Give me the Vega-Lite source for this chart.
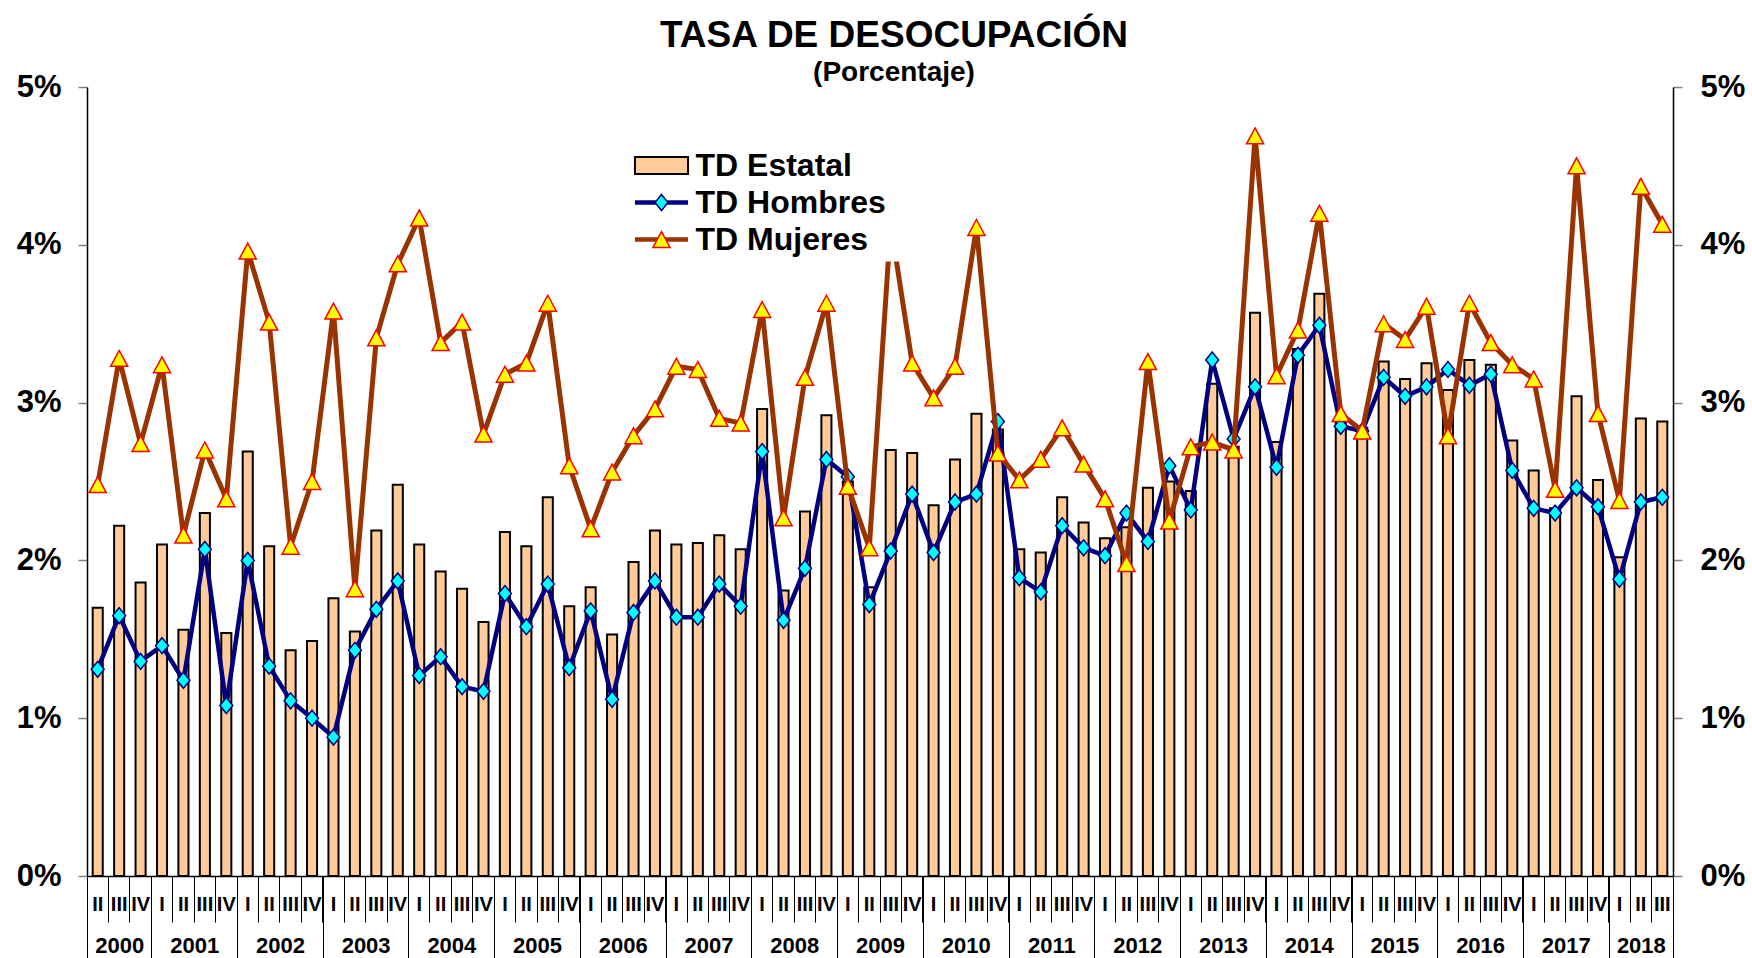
{
  "$schema": "https://vega.github.io/schema/vega-lite/v6.json",
  "width": 1586,
  "height": 789,
  "autosize": {"type": "none"},
  "padding": {"left": 87, "top": 87, "right": 79, "bottom": 82},
  "background": "#ffffff",
  "config": {"font": "Liberation Sans", "view": {"stroke": null}},
  "title": {
    "text": "TASA DE DESOCUPACIÓN",
    "subtitle": "(Porcentaje)",
    "anchor": "middle",
    "frame": "group",
    "font": "Liberation Sans",
    "fontSize": 37,
    "fontWeight": "bold",
    "color": "#000000",
    "subtitleFont": "Liberation Sans",
    "subtitleFontSize": 28,
    "subtitleFontWeight": "bold",
    "subtitleColor": "#000000",
    "subtitlePadding": 4,
    "offset": -17,
    "dx": 14
  },
  "datasets": {
    "d": [
      {"t": "2000-II", "e": 1.70, "h": 1.31, "m": 2.48},
      {"t": "2000-III", "e": 2.22, "h": 1.65, "m": 3.28},
      {"t": "2000-IV", "e": 1.86, "h": 1.36, "m": 2.74},
      {"t": "2001-I", "e": 2.10, "h": 1.46, "m": 3.24},
      {"t": "2001-II", "e": 1.56, "h": 1.24, "m": 2.16},
      {"t": "2001-III", "e": 2.30, "h": 2.07, "m": 2.70},
      {"t": "2001-IV", "e": 1.54, "h": 1.08, "m": 2.39},
      {"t": "2002-I", "e": 2.69, "h": 2.00, "m": 3.96},
      {"t": "2002-II", "e": 2.09, "h": 1.33, "m": 3.51},
      {"t": "2002-III", "e": 1.43, "h": 1.11, "m": 2.09},
      {"t": "2002-IV", "e": 1.49, "h": 1.00, "m": 2.50},
      {"t": "2003-I", "e": 1.76, "h": 0.88, "m": 3.58},
      {"t": "2003-II", "e": 1.55, "h": 1.43, "m": 1.82},
      {"t": "2003-III", "e": 2.19, "h": 1.69, "m": 3.41},
      {"t": "2003-IV", "e": 2.48, "h": 1.87, "m": 3.88},
      {"t": "2004-I", "e": 2.10, "h": 1.27, "m": 4.17},
      {"t": "2004-II", "e": 1.93, "h": 1.39, "m": 3.38},
      {"t": "2004-III", "e": 1.82, "h": 1.20, "m": 3.51},
      {"t": "2004-IV", "e": 1.61, "h": 1.17, "m": 2.80},
      {"t": "2005-I", "e": 2.18, "h": 1.79, "m": 3.18},
      {"t": "2005-II", "e": 2.09, "h": 1.58, "m": 3.25},
      {"t": "2005-III", "e": 2.40, "h": 1.85, "m": 3.63},
      {"t": "2005-IV", "e": 1.71, "h": 1.32, "m": 2.60},
      {"t": "2006-I", "e": 1.83, "h": 1.68, "m": 2.20},
      {"t": "2006-II", "e": 1.53, "h": 1.12, "m": 2.56},
      {"t": "2006-III", "e": 1.99, "h": 1.67, "m": 2.79},
      {"t": "2006-IV", "e": 2.19, "h": 1.87, "m": 2.96},
      {"t": "2007-I", "e": 2.10, "h": 1.64, "m": 3.23},
      {"t": "2007-II", "e": 2.11, "h": 1.64, "m": 3.21},
      {"t": "2007-III", "e": 2.16, "h": 1.85, "m": 2.90},
      {"t": "2007-IV", "e": 2.07, "h": 1.71, "m": 2.87},
      {"t": "2008-I", "e": 2.96, "h": 2.69, "m": 3.59},
      {"t": "2008-II", "e": 1.81, "h": 1.62, "m": 2.27},
      {"t": "2008-III", "e": 2.31, "h": 1.95, "m": 3.16},
      {"t": "2008-IV", "e": 2.92, "h": 2.64, "m": 3.63},
      {"t": "2009-I", "e": 2.50, "h": 2.53, "m": 2.47},
      {"t": "2009-II", "e": 1.83, "h": 1.72, "m": 2.08},
      {"t": "2009-III", "e": 2.70, "h": 2.06, "m": 4.13},
      {"t": "2009-IV", "e": 2.68, "h": 2.42, "m": 3.25},
      {"t": "2010-I", "e": 2.35, "h": 2.05, "m": 3.03},
      {"t": "2010-II", "e": 2.64, "h": 2.37, "m": 3.23},
      {"t": "2010-III", "e": 2.93, "h": 2.42, "m": 4.11},
      {"t": "2010-IV", "e": 2.83, "h": 2.88, "m": 2.68},
      {"t": "2011-I", "e": 2.07, "h": 1.89, "m": 2.51},
      {"t": "2011-II", "e": 2.05, "h": 1.80, "m": 2.64},
      {"t": "2011-III", "e": 2.40, "h": 2.22, "m": 2.84},
      {"t": "2011-IV", "e": 2.24, "h": 2.08, "m": 2.61},
      {"t": "2012-I", "e": 2.14, "h": 2.03, "m": 2.39},
      {"t": "2012-II", "e": 2.21, "h": 2.30, "m": 1.98},
      {"t": "2012-III", "e": 2.46, "h": 2.12, "m": 3.26},
      {"t": "2012-IV", "e": 2.50, "h": 2.60, "m": 2.25},
      {"t": "2013-I", "e": 2.44, "h": 2.32, "m": 2.72},
      {"t": "2013-II", "e": 3.12, "h": 3.27, "m": 2.75},
      {"t": "2013-III", "e": 2.72, "h": 2.77, "m": 2.70},
      {"t": "2013-IV", "e": 3.57, "h": 3.10, "m": 4.69},
      {"t": "2014-I", "e": 2.75, "h": 2.59, "m": 3.17},
      {"t": "2014-II", "e": 3.34, "h": 3.30, "m": 3.46},
      {"t": "2014-III", "e": 3.69, "h": 3.49, "m": 4.20},
      {"t": "2014-IV", "e": 2.89, "h": 2.85, "m": 2.93},
      {"t": "2015-I", "e": 2.84, "h": 2.82, "m": 2.82},
      {"t": "2015-II", "e": 3.26, "h": 3.16, "m": 3.50},
      {"t": "2015-III", "e": 3.15, "h": 3.04, "m": 3.40},
      {"t": "2015-IV", "e": 3.25, "h": 3.10, "m": 3.61},
      {"t": "2016-I", "e": 3.08, "h": 3.21, "m": 2.79},
      {"t": "2016-II", "e": 3.27, "h": 3.11, "m": 3.63},
      {"t": "2016-III", "e": 3.24, "h": 3.18, "m": 3.38},
      {"t": "2016-IV", "e": 2.76, "h": 2.57, "m": 3.24},
      {"t": "2017-I", "e": 2.57, "h": 2.33, "m": 3.15},
      {"t": "2017-II", "e": 2.33, "h": 2.30, "m": 2.45},
      {"t": "2017-III", "e": 3.04, "h": 2.46, "m": 4.50},
      {"t": "2017-IV", "e": 2.51, "h": 2.34, "m": 2.93},
      {"t": "2018-I", "e": 2.02, "h": 1.88, "m": 2.38},
      {"t": "2018-II", "e": 2.90, "h": 2.37, "m": 4.37},
      {"t": "2018-III", "e": 2.88, "h": 2.40, "m": 4.13}
    ],
    "years": [
      {"year": "2000", "mid": 1.5}, {"year": "2001", "mid": 5}, {"year": "2002", "mid": 9},
      {"year": "2003", "mid": 13}, {"year": "2004", "mid": 17}, {"year": "2005", "mid": 21},
      {"year": "2006", "mid": 25}, {"year": "2007", "mid": 29}, {"year": "2008", "mid": 33},
      {"year": "2009", "mid": 37}, {"year": "2010", "mid": 41}, {"year": "2011", "mid": 45},
      {"year": "2012", "mid": 49}, {"year": "2013", "mid": 53}, {"year": "2014", "mid": 57},
      {"year": "2015", "mid": 61}, {"year": "2016", "mid": 65}, {"year": "2017", "mid": 69},
      {"year": "2018", "mid": 72.5}
    ]
  },
  "layer": [
    {
      "data": {"name": "d"},
      "layer": [
        {
          "mark": {"type": "bar", "fill": "#FFCC99", "stroke": "#000000", "strokeWidth": 2, "width": {"band": 0.47}},
          "encoding": {
            "x": {
              "field": "t", "type": "ordinal", "sort": null,
              "scale": {"type": "band", "paddingInner": 0, "paddingOuter": 0},
              "axis": {
                "orient": "bottom", "title": null, "grid": false,
                "bandPosition": 0, "ticks": true, "tickSize": 46, "tickColor": "#000000", "tickWidth": 1,
                "domain": true, "domainColor": "#000000", "domainWidth": 1.5,
                "labelExpr": "split(datum.value, '-')[1]",
                "labelAngle": 0, "labelFont": "Liberation Sans", "labelFontSize": 20, "labelFontWeight": "bold",
                "labelColor": "#000000", "labelPadding": -28, "labelOverlap": false, "labelFlush": false, "labelBound": false
              }
            },
            "y": {
              "field": "e", "type": "quantitative",
              "scale": {"domain": [0, 5], "nice": false},
              "axis": {
                "orient": "left", "title": null, "grid": false, "values": [0, 1, 2, 3, 4, 5],
                "labelExpr": "datum.value + '%'",
                "domain": true, "domainColor": "#000000", "domainWidth": 1.5,
                "ticks": true, "tickSize": 9, "tickColor": "#808080", "tickWidth": 1.5,
                "labelFont": "Liberation Sans", "labelFontSize": 31, "labelFontWeight": "bold",
                "labelColor": "#000000", "labelPadding": 17
              }
            }
          }
        },
        {
          "transform": [{"fold": ["h"], "as": ["key", "v"]}],
          "mark": {"type": "line", "strokeWidth": 4.5},
          "encoding": {
            "x": {"field": "t", "type": "ordinal", "sort": null, "scale": {"type": "band", "paddingInner": 0, "paddingOuter": 0}},
            "y": {"field": "v", "type": "quantitative", "scale": {"domain": [0, 5], "nice": false}},
            "stroke": {
              "field": "key", "type": "nominal",
              "scale": {"domain": ["e", "h", "m"], "range": ["#000000", "#000080", "#993300"]},
              "legend": {
                "orient": "none", "legendX": 552.5, "legendY": 56.5, "title": null,
                "padding": 6, "fillColor": "#ffffff", "strokeColor": null,
                "symbolSize": 900, "symbolStrokeWidth": 2, "symbolOffset": 0,
                "labelFont": "Liberation Sans", "labelFontSize": 32, "labelFontWeight": "bold",
                "labelColor": "#000000", "labelOffset": 18, "labelLimit": 400, "rowPadding": 5,
                "labelExpr": "datum.value == 'e' ? 'TD Estatal' : datum.value == 'h' ? 'TD Hombres' : 'TD Mujeres'",
                "encoding": {
                  "symbols": {
                    "shape": {"value": {"expr": "datum.value == 'e' ? 'M-1.77,-0.57H1.77V0.57H-1.77ZM16.5,0' : 'M-1.77,0H1.77'"}},
                    "fill": {"value": {"expr": "datum.value == 'e' ? '#FFCC99' : 'transparent'"}},
                    "stroke": {"value": {"expr": "datum.value == 'e' ? '#000000' : datum.value == 'h' ? '#000080' : '#993300'"}},
                    "strokeWidth": {"value": {"expr": "datum.value == 'e' ? 2 : 4.5"}},
                    "opacity": {"value": 1}
                  }
                }
              }
            }
          }
        },
        {
          "transform": [{"fold": ["h"], "as": ["key", "v"]}],
          "mark": {"type": "point", "filled": true, "fill": "#00FFFF", "stroke": "#000080", "strokeWidth": 1.5, "size": 900, "opacity": 1},
          "encoding": {
            "x": {"field": "t", "type": "ordinal", "sort": null, "scale": {"type": "band", "paddingInner": 0, "paddingOuter": 0}},
            "y": {"field": "v", "type": "quantitative", "scale": {"domain": [0, 5], "nice": false}},
            "shape": {
              "field": "key", "type": "nominal",
              "scale": {"domain": ["e", "h", "m", "z"], "range": ["M0,0", "M0,-0.53L0.43,0L0,0.53L-0.43,0Z", "M0,-0.53L0.57,0.53L-0.57,0.53Z", "circle"]},
              "legend": {
                "orient": "none", "legendX": 552.5, "legendY": 56.5, "title": null,
                "padding": 6, "values": ["e", "h", "m"],
                "symbolSize": 900, "symbolStrokeWidth": 2, "symbolOffset": 0,
                "labelFont": "Liberation Sans", "labelFontSize": 32, "labelFontWeight": "bold",
                "labelColor": "#000000", "labelOffset": 18, "labelLimit": 400, "rowPadding": 5,
                "labelExpr": "''",
                "encoding": {
                  "symbols": {
                    "fill": {"value": {"expr": "datum.value == 'h' ? '#00FFFF' : datum.value == 'm' ? '#FFFF00' : 'transparent'"}},
                    "stroke": {"value": {"expr": "datum.value == 'h' ? '#000080' : datum.value == 'm' ? '#FF0000' : 'transparent'"}},
                    "strokeWidth": {"value": 1.5},
                    "opacity": {"value": 1}
                  }
                }
              }
            }
          }
        },
        {
          "transform": [{"fold": ["m"], "as": ["key", "v"]}],
          "mark": {"type": "line", "strokeWidth": 5},
          "encoding": {
            "x": {"field": "t", "type": "ordinal", "sort": null, "scale": {"type": "band", "paddingInner": 0, "paddingOuter": 0}},
            "y": {"field": "v", "type": "quantitative", "scale": {"domain": [0, 5], "nice": false}},
            "stroke": {
              "field": "key", "type": "nominal",
              "scale": {"domain": ["e", "h", "m"], "range": ["#000000", "#000080", "#993300"]}
            }
          }
        },
        {
          "transform": [{"fold": ["m"], "as": ["key", "v"]}],
          "mark": {"type": "point", "filled": true, "fill": "#FFFF00", "stroke": "#FF0000", "strokeWidth": 1.5, "size": 900, "opacity": 1},
          "encoding": {
            "x": {"field": "t", "type": "ordinal", "sort": null, "scale": {"type": "band", "paddingInner": 0, "paddingOuter": 0}},
            "y": {"field": "v", "type": "quantitative", "scale": {"domain": [0, 5], "nice": false}},
            "shape": {
              "field": "key", "type": "nominal",
              "scale": {"domain": ["e", "h", "m", "z"], "range": ["M0,0", "M0,-0.53L0.43,0L0,0.53L-0.43,0Z", "M0,-0.53L0.57,0.53L-0.57,0.53Z", "circle"]}
            }
          }
        }
      ]
    },
    {
      "data": {"name": "d"},
      "mark": {"type": "point", "opacity": 0},
      "encoding": {
        "y": {
          "field": "e", "type": "quantitative",
          "scale": {"domain": [0, 5], "nice": false},
          "axis": {
            "orient": "right", "title": null, "grid": false, "values": [0, 1, 2, 3, 4, 5],
            "labelExpr": "datum.value + '%'",
            "domain": true, "domainColor": "#000000", "domainWidth": 1.5,
            "ticks": true, "tickSize": 9, "tickColor": "#808080", "tickWidth": 1.5,
            "labelFont": "Liberation Sans", "labelFontSize": 31, "labelFontWeight": "bold",
            "labelColor": "#000000", "labelPadding": 18
          }
        }
      }
    },
    {
      "data": {"name": "years"},
      "mark": {"type": "point", "opacity": 0},
      "encoding": {
        "x": {
          "field": "mid", "type": "quantitative",
          "scale": {"domain": [0, 74], "nice": false, "zero": false},
          "axis": {
            "orient": "bottom", "title": null, "grid": false, "labels": false, "domain": false,
            "values": [0, 3, 7, 11, 15, 19, 23, 27, 31, 35, 39, 43, 47, 51, 55, 59, 63, 67, 71, 74],
            "ticks": true, "tickSize": 90, "tickColor": "#000000", "tickWidth": 1
          }
        }
      }
    },
    {
      "data": {"name": "years"},
      "mark": {"type": "point", "opacity": 0},
      "encoding": {
        "x": {
          "field": "mid", "type": "quantitative",
          "scale": {"domain": [0, 74], "nice": false, "zero": false},
          "axis": {
            "orient": "bottom", "title": null, "grid": false, "domain": false, "ticks": false, "tickSize": 0,
            "values": [1.5, 5, 9, 13, 17, 21, 25, 29, 33, 37, 41, 45, 49, 53, 57, 61, 65, 69, 72.5],
            "labelExpr": "datum.value < 2 ? '2000' : datum.value > 72 ? '2018' : '' + (2000 + (datum.value - 1) / 4)",
            "labelAngle": 0, "labelFont": "Liberation Sans", "labelFontSize": 22, "labelFontWeight": "bold",
            "labelColor": "#000000", "labelPadding": 59, "labelOverlap": false, "labelFlush": false, "labelBound": false
          }
        }
      }
    }
  ],
  "resolve": {"scale": {"x": "independent", "y": "independent"}}
}
